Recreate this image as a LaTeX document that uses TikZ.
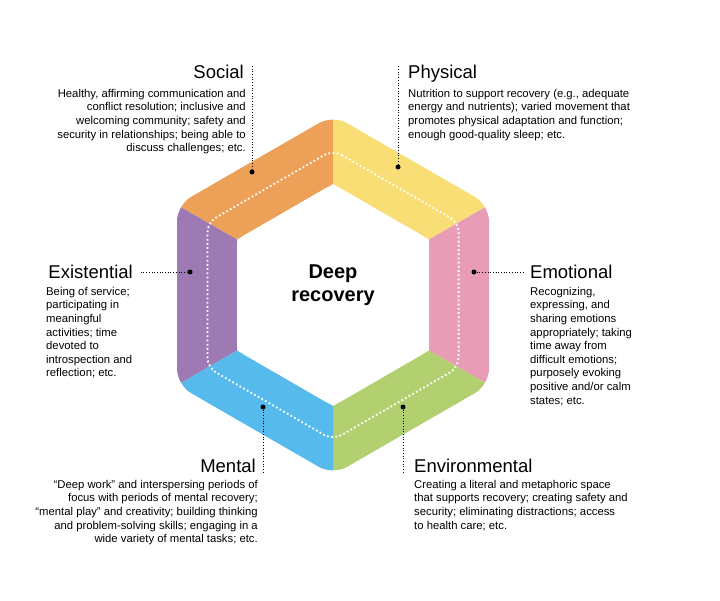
\documentclass[tikz,border=0pt]{standalone}
\usepackage{fontspec}
\setmainfont{Liberation Sans}
\begin{document}
\begin{tikzpicture}[x=1pt,y=-1pt,
 body/.style={font=\fontsize{11.3}{13.6}\selectfont,inner sep=0pt},
 ttl/.style={font=\fontsize{18.5}{20}\selectfont,inner sep=0pt},
 dotm/.style={circle,fill=black,inner sep=0pt,minimum size=5pt},
 lead/.style={line width=0.7pt,dotted}]
\useasboundingbox (0,0) rectangle (720,601);
\begin{scope}
\clip[rounded corners=16] (333,115)--(489,205)--(489,385)--(333,475)--(177,385)--(177,205)--cycle;
\fill[fill={rgb,255:red,237;green,160;blue,88}] (333,115)--(177,205)--(237,239.5)--(333,184)--cycle;
\fill[fill={rgb,255:red,249;green,221;blue,117}] (333,115)--(489,205)--(429,239.5)--(333,184)--cycle;
\fill[fill={rgb,255:red,232;green,156;blue,182}] (489,205)--(489,385)--(429,350.5)--(429,239.5)--cycle;
\fill[fill={rgb,255:red,178;green,208;blue,112}] (489,385)--(333,475)--(333,406)--(429,350.5)--cycle;
\fill[fill={rgb,255:red,86;green,186;blue,236}] (333,475)--(177,385)--(237,350.5)--(333,406)--cycle;
\fill[fill={rgb,255:red,158;green,122;blue,180}] (177,385)--(177,205)--(237,239.5)--(237,350.5)--cycle;
\end{scope}
\fill[white,rounded corners=8] (333,184)--(429,239.5)--(429,350.5)--(333,406)--(237,350.5)--(237,239.5)--cycle;
\draw[white,line width=1.8pt,dash pattern=on 1.8pt off 2.4pt,rounded corners=10] (333,150)--(458.6,222.5)--(458.6,367.5)--(333,440)--(207.4,367.5)--(207.4,222.5)--cycle;
\node[font=\fontsize{20}{23}\bfseries,align=center,inner sep=0pt] (center) at (333,285) {Deep\\recovery};
% dots
\node[dotm] (ds) at (252,172) {};
\node[dotm] (dp) at (398,167) {};
\node[dotm] (de) at (474,272) {};
\node[dotm] (dv) at (403,407) {};
\node[dotm] (dm) at (263,407) {};
\node[dotm] (dx) at (190,272) {};
\coordinate (ls) at (252,66);\coordinate (lp) at (398,66);
\coordinate (le) at (524,272);\coordinate (lx) at (140,272);
\coordinate (lv) at (403,472);\coordinate (lm) at (263,472);
\draw[lead] (ds)--(ls); \draw[lead] (dp)--(lp); \draw[lead] (de)--(le);
\draw[lead] (dx)--(lx); \draw[lead] (dv)--(lv); \draw[lead] (dm)--(lm);
% texts
\node[ttl,anchor=base east] (ts) at (244,79) {Social};
\node[body,anchor=north east,align=right] (bs) at (246,89) {Healthy, affirming communication and\\conflict resolution; inclusive and\\welcoming community; safety and\\security in relationships; being able to\\discuss challenges; etc.};
\node[ttl,anchor=base west] (tp) at (408,79) {Physical};
\node[body,anchor=north west,align=left] (bp) at (408,89) {Nutrition to support recovery (e.g., adequate\\energy and nutrients); varied movement that\\promotes physical adaptation and function;\\enough good-quality sleep; etc.};
\node[ttl,anchor=base west] (te) at (530,279) {Emotional};
\node[body,anchor=north west,align=left] (be) at (530,287) {Recognizing,\\expressing, and\\sharing emotions\\appropriately; taking\\time away from\\difficult emotions;\\purposely evoking\\positive and/or calm\\states; etc.};
\node[ttl,anchor=base east] (tx) at (133,279) {Existential};
\node[body,anchor=north west,align=left] (bx) at (46,287) {Being of service;\\participating in\\meaningful\\activities; time\\devoted to\\introspection and\\reflection; etc.};
\node[ttl,anchor=base east] (tm) at (256,472) {Mental};
\node[body,anchor=north east,align=right] (bm) at (258,480) {``Deep work'' and interspersing periods of\\focus with periods of mental recovery;\\``mental play'' and creativity; building thinking\\and problem-solving skills; engaging in a\\wide variety of mental tasks; etc.};
\node[ttl,anchor=base west] (tv) at (414,472) {Environmental};
\node[body,anchor=north west,align=left] (bv) at (414,480) {Creating a literal and metaphoric space\\that supports recovery; creating safety and\\security; eliminating distractions; access\\to health care; etc.};
\end{tikzpicture}
\end{document}
